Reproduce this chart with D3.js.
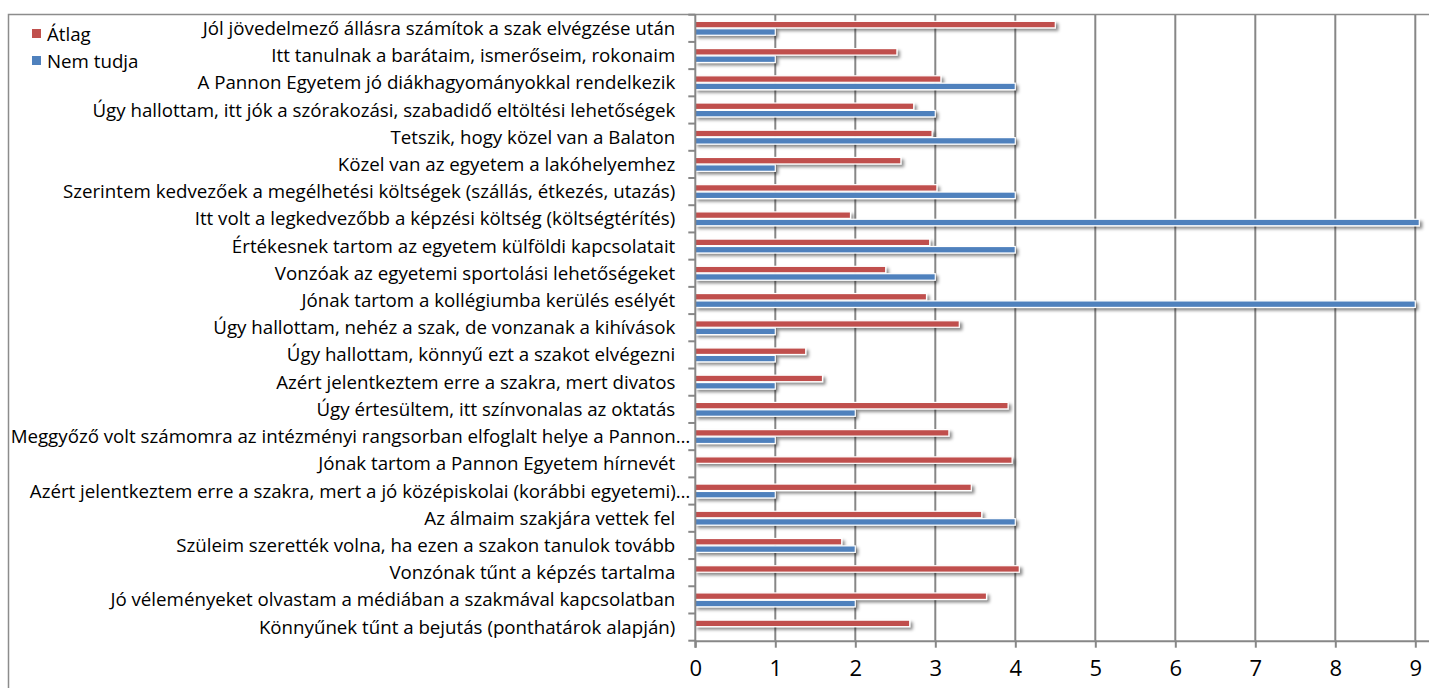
<!DOCTYPE html>
<html><head><meta charset="utf-8">
<script src="https://cdn.jsdelivr.net/npm/d3@7"></script>
<style>body{margin:0;background:#fff;overflow:hidden}svg{display:block}text{font-family:"Open Sans",Lato,sans-serif;fill:#000}</style>
</head><body><svg id="c" width="1429" height="688"></svg>
<script>
const categories = [
 "Jól jövedelmező állásra számítok a szak elvégzése után",
 "Itt tanulnak a barátaim, ismerőseim, rokonaim",
 "A Pannon Egyetem jó diákhagyományokkal rendelkezik",
 "Úgy hallottam, itt jók a szórakozási, szabadidő eltöltési lehetőségek",
 "Tetszik, hogy közel van a Balaton",
 "Közel van az egyetem a lakóhelyemhez",
 "Szerintem kedvezőek a megélhetési költségek (szállás, étkezés, utazás)",
 "Itt volt a legkedvezőbb a képzési költség (költségtérítés)",
 "Értékesnek tartom az egyetem külföldi kapcsolatait",
 "Vonzóak az egyetemi sportolási lehetőségeket",
 "Jónak tartom a kollégiumba kerülés esélyét",
 "Úgy hallottam, nehéz a szak, de vonzanak a kihívások",
 "Úgy hallottam, könnyű ezt a szakot elvégezni",
 "Azért jelentkeztem erre a szakra, mert divatos",
 "Úgy értesültem, itt színvonalas az oktatás",
 "Meggyőző volt számomra az intézményi rangsorban elfoglalt helye a Pannon…",
 "Jónak tartom a Pannon Egyetem hírnevét",
 "Azért jelentkeztem erre a szakra, mert a jó középiskolai (korábbi egyetemi)…",
 "Az álmaim szakjára vettek fel",
 "Szüleim szerették volna, ha ezen a szakon tanulok tovább",
 "Vonzónak tűnt a képzés tartalma",
 "Jó véleményeket olvastam a médiában a szakmával kapcsolatban",
 "Könnyűnek tűnt a bejutás (ponthatárok alapján)"
];
const atlag    = [4.50,2.52,3.07,2.73,2.96,2.57,3.02,1.94,2.93,2.38,2.89,3.30,1.38,1.59,3.91,3.17,3.96,3.45,3.58,1.83,4.05,3.64,2.68];
const nemTudja = [1,1,4,3,4,1,4,9.05,4,3,9,1,1,1,2,1,0,1,4,2,0,2,0];
const seriesNames = ["Átlag","Nem tudja"];
const colors = ["#C0504D","#4F81BD"];
const xTicks = [0,1,2,3,4,5,6,7,8,9];

const svg = d3.select("#c");
const X0 = 695.3, UNIT = 80, PTOP = 14.7, PBOT = 640.7;
const x = d3.scaleLinear().domain([0,10]).range([X0, X0 + 10*UNIT]);
const y = d3.scaleBand().domain(categories).range([PTOP,PBOT]).paddingInner(0.49).paddingOuter(0.245);
const ys = d3.scaleBand().domain(seriesNames).range([0,y.bandwidth()]).paddingInner(0.12);

const defs = svg.append("defs");
const f = defs.append("filter").attr("id","sh").attr("x","-5%").attr("y","-50%").attr("width","120%").attr("height","250%");
f.append("feDropShadow").attr("dx",2.5).attr("dy",2.5).attr("stdDeviation",1.6).attr("flood-color","#000").attr("flood-opacity",0.45);

// frame
svg.append("path").attr("d",`M8.5,688 V14.5 H1429`).attr("fill","none").attr("stroke","#8c8c8c").attr("stroke-width",1.5);

// gridlines
svg.append("g").selectAll("line").data(xTicks.slice(1)).join("line")
 .attr("x1",d=>x(d)).attr("x2",d=>x(d)).attr("y1",PTOP).attr("y2",PBOT)
 .attr("stroke","#878787").attr("stroke-width",2);

// bars
const data = categories.map((c,i)=>({c, vals:[atlag[i],nemTudja[i]]}));
const g = svg.append("g");
data.forEach(d=>{
  d.vals.forEach((v,j)=>{
    if(!v) return;
    g.append("rect").attr("x",x(0)).attr("y",y(d.c)+ys(seriesNames[j]))
     .attr("width",x(v)-x(0)).attr("height",ys.bandwidth())
     .attr("fill",colors[j]).attr("stroke","#fff").attr("stroke-width",1.2)
     .attr("filter","url(#sh)");
  });
});

// x axis
const xa = svg.append("g").attr("transform",`translate(0,${PBOT})`)
 .call(d3.axisBottom(x).tickValues(xTicks).tickSize(7).tickPadding(13).tickFormat(d3.format("d")));
xa.select(".domain").attr("stroke","#878787").attr("stroke-width",2).attr("d",`M${X0},0.5H1429`);
xa.selectAll(".tick line").attr("stroke","#878787").attr("stroke-width",2);
xa.selectAll("text").attr("font-size",22).attr("font-family","'Open Sans', sans-serif").attr("fill","#000");

// y axis
const ya = svg.append("g").attr("transform",`translate(${X0},0)`);
ya.append("line").attr("x1",0).attr("x2",0).attr("y1",PTOP).attr("y2",PBOT+7).attr("stroke","#878787").attr("stroke-width",2);
const bounds = d3.range(categories.length+1).map(i=>PTOP + i*y.step());
ya.selectAll(".yt").data(bounds).join("line").attr("class","yt")
 .attr("x1",-7).attr("x2",0).attr("y1",d=>d).attr("y2",d=>d).attr("stroke","#878787").attr("stroke-width",2);
const labels = ya.selectAll(".yl").data(categories).join("text").attr("class","yl")
 .attr("x",d=>d.endsWith("…")?-5:-20).attr("y",d=>y(d)+y.bandwidth()/2)
 .attr("dy","0.35em").attr("text-anchor","end").attr("font-size",17).text(d=>d);
// fit font size so the longest label spans the same width as in the reference
let maxW = 0; labels.each(function(){maxW=Math.max(maxW,this.getComputedTextLength());});
const fs = 17*680/maxW;
labels.attr("font-size",fs);

// legend
const lg = svg.append("g");
seriesNames.forEach((s,i)=>{
  lg.append("rect").attr("x",32).attr("y",29+i*27).attr("width",9).attr("height",9).attr("fill",colors[i]);
  lg.append("text").attr("x",47).attr("y",34+i*27).attr("dy","0.35em").attr("font-size",fs).text(s);
});
</script></body></html>
